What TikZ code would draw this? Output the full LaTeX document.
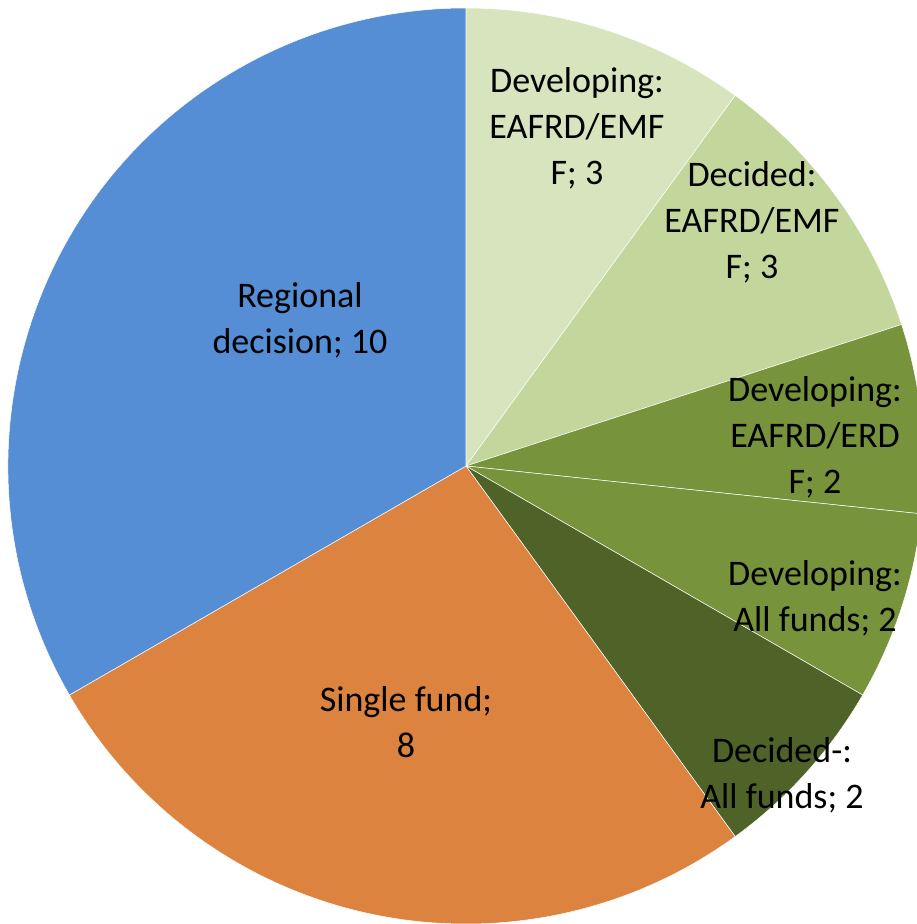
\documentclass[tikz,border=0pt]{standalone}
\usepackage{fontspec}
\setmainfont{Carlito}
\usetikzlibrary{positioning}
\definecolor{regblue}{HTML}{558ED5}
\definecolor{singleorange}{HTML}{DC843F}
\definecolor{paleolive}{HTML}{D7E4BD}
\definecolor{lightolive}{HTML}{C3D69B}
\definecolor{midolive}{HTML}{77933C}
\definecolor{darkolive}{HTML}{4F6228}
\tikzstyle{slice} = [draw=white, line width=0.5pt]
\tikzstyle{lbl} = [align=center, text=black, inner sep=0pt, font=\fontsize{36}{46}\selectfont]

\begin{document}
\begin{tikzpicture}[x=1pt, y=1pt]
    \useasboundingbox (-466,-458) rectangle (450,466);
    \coordinate (ctr) at (0,0);

    % slices, clockwise from the top
    \filldraw[slice, fill=paleolive] (ctr) -- (90:458) arc[start angle=90, end angle=54, radius=458] -- cycle;
    \filldraw[slice, fill=lightolive] (ctr) -- (54:458) arc[start angle=54, end angle=18, radius=458] -- cycle;
    \filldraw[slice, fill=midolive] (ctr) -- (18:458) arc[start angle=18, end angle=-6, radius=458] -- cycle;
    \filldraw[slice, fill=midolive] (ctr) -- (-6:458) arc[start angle=-6, end angle=-30, radius=458] -- cycle;
    \filldraw[slice, fill=darkolive] (ctr) -- (-30:458) arc[start angle=-30, end angle=-54, radius=458] -- cycle;
    \filldraw[slice, fill=singleorange] (ctr) -- (-54:458) arc[start angle=-54, end angle=-150, radius=458] -- cycle;
    \filldraw[slice, fill=regblue] (ctr) -- (-150:458) arc[start angle=-150, end angle=-270, radius=458] -- cycle;

    % labels
    \node[lbl] (dev_emff) at (111,338) {Developing:\\EAFRD/EMF\\F; 3};
    \node[lbl] (dec_emff) at (286,244) {Decided:\\EAFRD/EMF\\F; 3};
    \node[lbl] (dev_erdf) at (349,29) {Developing:\\EAFRD/ERD\\F; 2};
    \node[lbl] (dev_all) at (349,-132) {Developing:\\All funds; 2};
    \node[lbl] (dec_all) at (316,-309) {Decided-:\\All funds; 2};
    \node[lbl] (single) at (-60,-256) {Single fund;\\8};
    \node[lbl] (regional) at (-166,146) {Regional\\decision; 10};
\end{tikzpicture}
\end{document}
